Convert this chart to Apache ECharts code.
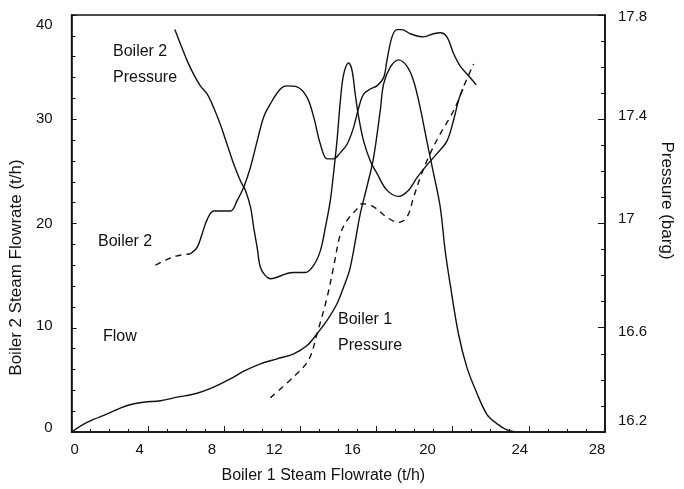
<!DOCTYPE html>
<html>
<head>
<meta charset="utf-8">
<script src="https://cdn.jsdelivr.net/npm/echarts@6/dist/echarts.min.js"></script>
<style>
html, body { margin: 0; padding: 0; background: #fff; }
#chart { width: 684px; height: 489px; }
</style>
</head>
<body>
<div id="chart"></div>
<script>
// x = boiler 1 steam flowrate (t/h)
var xTickLabels = ["0", "4", "8", "12", "16", "20", "24", "28"];
var leftTickLabels = ["0", "10", "20", "30", "40"];
var rightTickLabels = ["16.2", "16.6", "17", "17.4", "17.8"];
// labels in the scan sit a bit off their ticks (px)
var xLabelShift = [3, -8, -12, -26, -24, -25, -9, -8];   // + = right
var leftLabelShift = [-4, -2, 0, 0, 10];                  // + = down
var rightLabelShift = [-11, 4, -5, -3, 2];                // + = down

// boiler 2 pressure (barg), right axis
var boiler2Pressure = [
    [5.42, 17.744], [5.72, 17.688], [6.07, 17.624], [6.41, 17.572], [6.76, 17.528],
    [7.12, 17.496], [7.46, 17.444], [7.81, 17.38], [8.16, 17.304], [8.51, 17.228],
    [8.86, 17.164], [9.12, 17.128], [9.39, 17.064], [9.56, 16.984], [9.74, 16.908],
    [9.91, 16.832], [10.17, 16.80], [10.44, 16.788], [10.70, 16.792], [11.31, 16.808],
    [11.66, 16.812], [12.27, 16.812], [12.71, 16.84], [13.06, 16.896], [13.32, 16.984],
    [13.58, 17.088], [13.75, 17.192], [13.93, 17.316], [14.11, 17.472], [14.28, 17.572],
    [14.54, 17.616], [14.72, 17.588], [14.89, 17.496], [15.07, 17.408], [15.33, 17.316],
    [15.68, 17.24], [16.03, 17.192], [16.55, 17.128], [17.16, 17.104], [17.69, 17.128],
    [18.13, 17.176], [18.65, 17.224], [19.18, 17.268], [19.70, 17.316], [20.05, 17.396],
    [20.31, 17.472], [20.54, 17.516]
];

// boiler 2 flow (t/h), left axis - dashed lead-in then solid
var boiler2FlowStart = [[4.40, 16.0], [4.95, 16.5], [5.54, 16.9], [6.24, 17.1]];
var boiler2Flow = [
    [6.24, 17.1], [6.59, 17.7], [6.85, 19.0], [7.12, 20.4], [7.46, 21.2],
    [8.34, 21.2], [8.69, 22.2], [9.04, 23.5], [9.39, 25.4], [9.74, 27.9],
    [10.08, 30.2], [10.44, 31.5], [10.96, 32.9], [11.31, 33.2], [11.83, 33.1],
    [12.36, 32.1], [12.71, 30.2], [13.06, 27.6], [13.41, 26.2], [13.75, 26.2],
    [14.11, 26.8], [14.46, 27.6], [14.80, 29.2], [15.07, 31.1], [15.33, 32.4],
    [15.68, 32.9], [16.03, 33.2], [16.38, 34.0], [16.55, 35.6], [16.82, 37.9],
    [17.08, 38.6], [17.34, 38.6], [17.78, 38.2], [18.47, 37.9], [19.00, 38.2],
    [19.35, 38.3], [19.70, 37.9], [20.05, 36.3], [20.40, 35.1], [20.92, 34.0],
    [21.24, 33.3]
];

// flow curve from origin (t/h), left axis
var flow = [
    [0, 0], [0.83, 0.94], [1.87, 1.74], [2.92, 2.54], [3.79, 2.86], [4.67, 3.0],
    [5.54, 3.34], [6.59, 3.72], [7.46, 4.30], [8.34, 5.10], [9.04, 5.83], [9.91, 6.54],
    [10.79, 7.02], [11.66, 7.50], [12.36, 8.29], [12.88, 9.42], [13.41, 10.7],
    [13.93, 12.3], [14.28, 13.9], [14.63, 15.8], [15.15, 20.9], [15.50, 23.5],
    [15.85, 26.3], [16.20, 30.8], [16.38, 33.4], [16.73, 35.0], [17.16, 35.7],
    [17.60, 35.1], [17.95, 33.7], [18.30, 31.1], [18.65, 27.9], [19.00, 24.8],
    [19.35, 21.6], [19.61, 17.4], [19.87, 14.2], [20.31, 9.4], [20.75, 6.2],
    [21.28, 3.7], [21.80, 1.7], [22.32, 0.8], [22.85, 0.2], [23.3, 0]
];

// boiler 1 pressure (barg), right axis, dashed
var boiler1Pressure = [
    [10.44, 16.332], [11.66, 16.412], [12.44, 16.476], [12.88, 16.576], [13.41, 16.716],
    [13.75, 16.832], [14.11, 16.96], [14.46, 17.012], [14.98, 17.056], [15.24, 17.076],
    [15.85, 17.064], [16.55, 17.024], [17.16, 17.004], [17.60, 17.024], [17.95, 17.10],
    [18.30, 17.176], [18.82, 17.268], [19.35, 17.344], [19.87, 17.408], [20.23, 17.46],
    [20.57, 17.524], [21.10, 17.612]
];

var fontFamily = "'Liberation Sans', Arial, Helvetica, sans-serif";
var ink = "#111";

function shiftedRich(shifts, horizontal) {
    var rich = {};
    shifts.forEach(function (d, i) {
        var a = Math.abs(d) * 2;
        var pad;
        if (horizontal) {
            pad = d < 0 ? [0, a, 0, 0] : [0, 0, 0, a];
        } else {
            pad = d < 0 ? [0, 0, a, 0] : [a, 0, 0, 0];
        }
        rich["s" + i] = { fontSize: 15, fontFamily: fontFamily, color: ink, padding: pad };
    });
    return rich;
}

function lineSeries(name, data, yIndex, dashed) {
    return {
        name: name,
        type: "line",
        yAxisIndex: yIndex,
        data: data,
        showSymbol: false,
        smooth: 0.35,
        silent: true,
        lineStyle: {
            color: ink,
            width: 1.4,
            type: dashed ? [6, 5] : "solid"
        }
    };
}

function annotation(x, y, text) {
    return {
        type: "text",
        left: x,
        top: y - 6,
        style: { text: text, fill: ink, font: "16px " + fontFamily }
    };
}

var chart = echarts.init(document.getElementById("chart"));
var option = {
    backgroundColor: "#fff",
    animation: false,
    textStyle: { fontFamily: fontFamily, color: ink },
    grid: {
        left: 71,
        right: 79,
        top: 15,
        bottom: 57,
        show: true,
        borderColor: ink,
        borderWidth: 1.5
    },
    xAxis: {
        type: "value",
        min: 0,
        max: 28,
        interval: 4,
        name: "Boiler 1 Steam Flowrate (t/h)",
        nameLocation: "middle",
        nameGap: 36,
        nameTextStyle: { fontSize: 16, color: ink, padding: [0, 30, 0, 0] },
        axisLine: { lineStyle: { color: ink, width: 1.5 } },
        axisTick: { inside: true, length: 6, lineStyle: { color: ink } },
        minorTick: { show: true, splitNumber: 4, length: 3, lineStyle: { color: ink } },
        axisLabel: {
            margin: 10,
            formatter: function (v) {
                var i = Math.round(v / 4);
                return "{s" + i + "|" + xTickLabels[i] + "}";
            },
            rich: shiftedRich(xLabelShift, true)
        },
        splitLine: { show: false }
    },
    yAxis: [
        {
            type: "value",
            position: "left",
            min: 0,
            max: 40,
            interval: 10,
            name: "Boiler 2 Steam Flowrate (t/h)",
            nameLocation: "middle",
            nameGap: 27,
            nameTextStyle: { fontSize: 17, color: ink, padding: [0, 88, 0, 0] },
            axisLine: { show: true, lineStyle: { color: ink, width: 1.5 } },
            axisTick: { show: true, inside: true, length: 5, lineStyle: { color: ink } },
            minorTick: { show: true, splitNumber: 5, length: 4, lineStyle: { color: ink } },
            axisLabel: {
                margin: 19,
                formatter: function (v) {
                    var i = Math.round(v / 10);
                    return "{s" + i + "|" + leftTickLabels[i] + "}";
                },
                rich: shiftedRich(leftLabelShift, false)
            },
            splitLine: { show: false }
        },
        {
            type: "value",
            position: "right",
            min: 16.2,
            max: 17.8,
            interval: 0.4,
            name: "Pressure (barg)",
            nameLocation: "middle",
            nameRotate: -90,
            nameGap: 49,
            nameTextStyle: { fontSize: 17, color: ink, padding: [0, 46, 0, 0] },
            axisLine: { show: true, lineStyle: { color: ink, width: 1.5 } },
            axisTick: { show: true, inside: true, length: 7, lineStyle: { color: ink } },
            minorTick: { show: true, splitNumber: 4, length: 4, lineStyle: { color: ink } },
            axisLabel: {
                margin: 13,
                formatter: function (v) {
                    var i = Math.round((v - 16.2) / 0.4);
                    return "{s" + i + "|" + rightTickLabels[i] + "}";
                },
                rich: shiftedRich(rightLabelShift, false)
            },
            splitLine: { show: false }
        }
    ],
    series: [
        lineSeries("Boiler 2 Pressure", boiler2Pressure, 1, false),
        lineSeries("Boiler 2 Flow", boiler2FlowStart, 0, true),
        lineSeries("Boiler 2 Flow", boiler2Flow, 0, false),
        lineSeries("Flow", flow, 0, false),
        lineSeries("Boiler 1 Pressure", boiler1Pressure, 1, true)
    ],
    graphic: [
        annotation(113, 50, "Boiler 2"),
        annotation(113, 76, "Pressure"),
        annotation(98, 240, "Boiler 2"),
        annotation(103, 335, "Flow"),
        annotation(338, 318, "Boiler 1"),
        annotation(338, 344, "Pressure")
    ]
};
chart.setOption(option);
</script>
</body>
</html>
